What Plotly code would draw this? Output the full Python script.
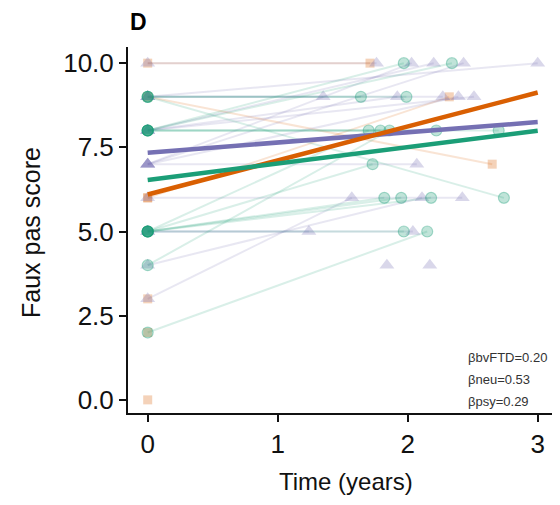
import plotly.graph_objects as go

# ---------------- data ----------------
# bvFTD subjects (triangles): baseline score at time 0, follow-up time, follow-up score
ftd_base = [10, 9, 9, 9, 7, 8, 7, 8, 7, 8, 7, 3, 4, 6, 5, 5, None, None]
ftd_time = [1.76, 3.00, 1.35, 2.27, 2.03, 2.20, 2.43, 1.92, 2.39, 2.51, 2.07, 1.57, 2.11, 2.42, 1.24, 2.04, 1.84, 2.17]
ftd_fu   = [10, 10, 9, 9, 10, 10, 10, 9, 9, 9, 7, 6, 6, 6, 5, 5, 4, 4]

# psychiatric subjects (circles)
psy_base = [9, 9, 9, 8, 8, 8, 8, 5, 5, 5, 5, 5, 2, 4, 8, 5]
psy_time = [1.64, 1.99, 2.74, 1.79, 2.22, 2.34, 1.97, 1.70, 1.73, 1.82, 1.95, 1.97, 2.15, 1.86, 2.70, 2.18]
psy_fu   = [9, 9, 6, 8, 8, 10, 10, 8, 7, 6, 6, 5, 5, 8, 8, 6]

# neurological subjects (squares)
neu_base = [10, 9, 6, 6, 3, 0, 2]
neu_time = [1.71, 2.65, 2.32, None, None, None, None]
neu_fu   = [10, 7, 9, None, None, None, None]

# fitted group lines (value at time 0 and at time 3)
reg_names = ["bvFTD", "neu", "psy"]
reg_start = [7.34, 6.10, 6.53]
reg_end   = [8.25, 9.13, 7.99]
reg_span  = [0, 3]

beta_labels = ["\u03b2bvFTD=0.20", "\u03b2neu=0.53", "\u03b2psy=0.29"]

x_ticks = [0, 1, 2, 3]
y_ticks = [0, 2.5, 5, 7.5, 10]
y_ticktext = ["0.0", "2.5", "5.0", "7.5", "10.0"]

# ---------------- styling ----------------
COL = {"bvFTD": (117, 112, 179), "neu": (217, 95, 2), "psy": (27, 158, 119)}
SYM = {"bvFTD": "triangle-up", "neu": "square", "psy": "circle"}
SIZE = {"bvFTD": 13, "neu": 9, "psy": 11}


def rgba(c, a):
    return "rgba(%d,%d,%d,%.3f)" % (c[0], c[1], c[2], a)


groups = [
    ("neu", neu_base, neu_time, neu_fu),
    ("bvFTD", ftd_base, ftd_time, ftd_fu),
    ("psy", psy_base, psy_time, psy_fu),
]

fig = go.Figure()

# individual subject trajectories
for name, base, time, fu in groups:
    c = COL[name]
    for b, t, f in zip(base, time, fu):
        if b is None or t is None:
            continue
        fig.add_trace(go.Scatter(
            x=[0, t], y=[b, f], mode="lines",
            line=dict(color=rgba(c, 0.17), width=2),
            hoverinfo="skip", showlegend=False))

# points
for name, base, time, fu in groups:
    c = COL[name]
    xs, ys = [], []
    for b, t, f in zip(base, time, fu):
        if b is not None:
            xs.append(0)
            ys.append(b)
        if t is not None:
            xs.append(t)
            ys.append(f)
    ring = 1.2 if name == "psy" else 0
    fig.add_trace(go.Scatter(
        x=xs, y=ys, mode="markers",
        marker=dict(symbol=SYM[name], size=SIZE[name],
                    color=rgba(c, 0.28),
                    line=dict(color=rgba(c, 0.35), width=ring)),
        showlegend=False, name=name))

# fitted lines
for name, s, e in zip(reg_names, reg_start, reg_end):
    fig.add_trace(go.Scatter(
        x=reg_span, y=[s, e], mode="lines",
        line=dict(color=rgba(COL[name], 1.0), width=4.5),
        showlegend=False, name=name))

FONT = "Liberation Sans, Arial, Helvetica, sans-serif"

# The page body has an 8px margin, so the figure starts at (8, 8) in the window.
OFF = 8
W, H = 544, 489
L = 128 - OFF           # plot left edge in figure px
T = 47 - OFF            # plot top edge
Bot = 413 - OFF         # plot bottom edge
R = 0
B = H - Bot
pw, ph = W - L - R, Bot - T

PXU = 130.0             # pixels per year
x0_fig = 147.7 - OFF    # figure px of time 0
x_lo = -(x0_fig - L) / PXU
x_hi = x_lo + pw / PXU


def fx(page_px):
    return (page_px - OFF - L) / pw


def fy(page_py):
    return (Bot - (page_py - OFF)) / ph


annotations = [
    dict(text="Faux pas score", x=fx(31), y=fy(233), xref="paper", yref="paper",
         textangle=-90, showarrow=False, xanchor="center", yanchor="middle",
         font=dict(family=FONT, size=25, color="#111111")),
    dict(text="Time (years)", x=fx(346), y=fy(482), xref="paper", yref="paper",
         showarrow=False, xanchor="center", yanchor="middle",
         font=dict(family=FONT, size=24, color="#111111")),
    dict(text="<b>D</b>", x=fx(128), y=fy(22), xref="paper", yref="paper",
         showarrow=False, xanchor="left", yanchor="middle",
         font=dict(family=FONT, size=23, color="#000000")),
]
for lab, py in zip(beta_labels, [357, 379, 401]):
    annotations.append(dict(text=lab, x=fx(466), y=fy(py), xref="paper", yref="paper",
                            showarrow=False, xanchor="left", yanchor="middle",
                            font=dict(family=FONT, size=13, color="#333333")))

fig.update_layout(
    width=W, height=H,
    margin=dict(l=L, r=R, t=T, b=B, pad=0),
    paper_bgcolor="white", plot_bgcolor="white",
    font=dict(family=FONT, color="#111111"),
    annotations=annotations,
    xaxis=dict(range=[x_lo, x_hi], tickvals=x_ticks, showgrid=False, zeroline=False,
               showline=True, linecolor="#111111", linewidth=2,
               ticks="outside", ticklen=7, tickwidth=1.5, tickcolor="#111111",
               tickfont=dict(family=FONT, size=26, color="#111111")),
    yaxis=dict(range=[-0.39, 10.48], tickvals=y_ticks, ticktext=y_ticktext,
               showgrid=False, zeroline=False,
               showline=True, linecolor="#111111", linewidth=2,
               ticks="outside", ticklen=7, tickwidth=1.5, tickcolor="#111111",
               tickfont=dict(family=FONT, size=26, color="#111111")),
)

fig.write_html("out.html")
